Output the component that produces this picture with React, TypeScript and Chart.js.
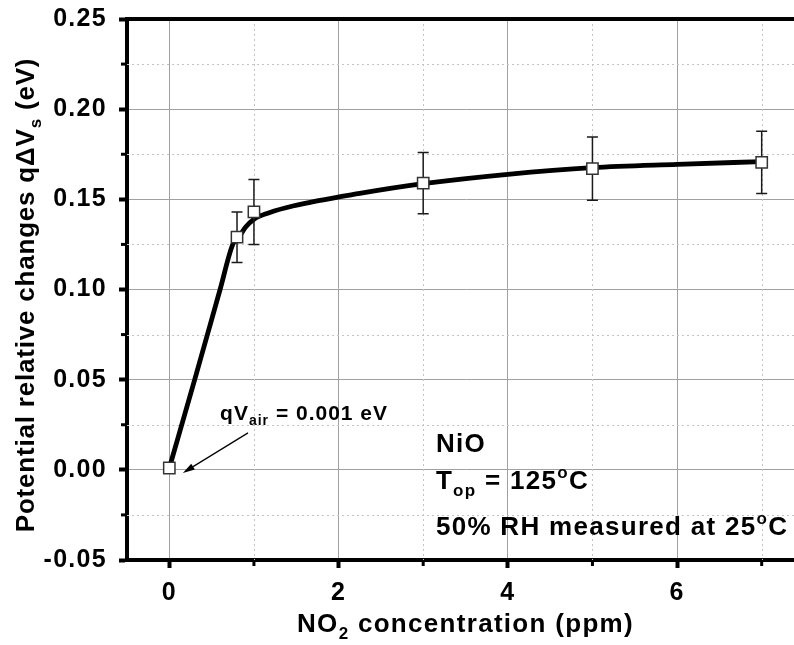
import React, { useEffect, useRef } from 'react';
import { Chart, registerables } from 'chart.js';

Chart.register(...registerables);

// ---- data ----
const concentrations = [0, 0.8, 1, 3, 5, 7];
const potentialChanges = [0.001, 0.129, 0.143, 0.159, 0.167, 0.1705];
const errorValues = [0, 0.014, 0.018, 0.017, 0.0175, 0.0173];

const fitConcentrations = [0, 0.3, 0.6, 0.75, 0.83, 0.9, 1.0, 1.18, 1.46, 2.25, 3, 4, 5, 6, 7];
const fitValues = [0.001, 0.05, 0.1, 0.125, 0.1296, 0.1345, 0.139, 0.1426, 0.1463, 0.1533, 0.1587, 0.1639, 0.1676, 0.1694, 0.1709];

const xMajorTicks = [0, 2, 4, 6];
const xMinorTicks = [1, 3, 5, 7];
const yMajorTicks = [-0.05, 0, 0.05, 0.1, 0.15, 0.2, 0.25];
const yMinorTicks = [-0.025, 0.025, 0.075, 0.125, 0.175, 0.225];

const X_MIN = -0.5;
const X_MAX = 7.5;
const Y_MIN = -0.05;
const Y_MAX = 0.25;

const FONT = "'Liberation Sans', Arial, sans-serif";
const SPACING = '1.3px';

type Seg = { t: string; size: number; dy?: number };

function segWidth(ctx: CanvasRenderingContext2D, segs: Seg[]) {
  let w = 0;
  for (const s of segs) {
    ctx.font = `bold ${s.size}px ${FONT}`;
    w += ctx.measureText(s.t).width;
  }
  return w;
}

function drawRich(ctx: CanvasRenderingContext2D, segs: Seg[], x: number, y: number, align: 'left' | 'center') {
  let cx = align === 'center' ? x - segWidth(ctx, segs) / 2 : x;
  ctx.textAlign = 'left';
  ctx.textBaseline = 'alphabetic';
  for (const s of segs) {
    ctx.font = `bold ${s.size}px ${FONT}`;
    ctx.fillText(s.t, cx, y + (s.dy || 0));
    cx += ctx.measureText(s.t).width;
  }
}

const decorPlugin = {
  id: 'decor',
  beforeDraw(chart: any) {
    (chart.ctx as any).letterSpacing = SPACING;
  },
  beforeDatasetsDraw(chart: any) {
    const { ctx, chartArea: a, scales } = chart;
    const x = scales.x;
    const y = scales.y;
    ctx.save();
    ctx.strokeStyle = '#c4c4c4';
    ctx.lineWidth = 1;
    ctx.setLineDash([2, 3]);
    for (const v of xMinorTicks) {
      const px = Math.round(x.getPixelForValue(v)) + 0.5;
      ctx.beginPath();
      ctx.moveTo(px, a.top);
      ctx.lineTo(px, a.bottom);
      ctx.stroke();
    }
    for (const v of yMinorTicks) {
      const py = Math.round(y.getPixelForValue(v)) + 0.5;
      ctx.beginPath();
      ctx.moveTo(a.left, py);
      ctx.lineTo(a.right, py);
      ctx.stroke();
    }
    ctx.restore();
  },
  beforeDatasetDraw(chart: any, args: any) {
    if (args.index !== 0) return;
    const { ctx, scales } = chart;
    const x = scales.x;
    const y = scales.y;
    ctx.save();
    ctx.strokeStyle = '#1a1a1a';
    ctx.lineWidth = 1.5;
    concentrations.forEach((c, i) => {
      const e = errorValues[i];
      if (!e) return;
      const px = x.getPixelForValue(c);
      const top = y.getPixelForValue(potentialChanges[i] + e);
      const bot = y.getPixelForValue(potentialChanges[i] - e);
      ctx.beginPath();
      ctx.moveTo(px, top);
      ctx.lineTo(px, bot);
      ctx.moveTo(px - 5.5, top);
      ctx.lineTo(px + 5.5, top);
      ctx.moveTo(px - 5.5, bot);
      ctx.lineTo(px + 5.5, bot);
      ctx.stroke();
    });
    ctx.restore();
  },
  afterDraw(chart: any) {
    const { ctx, chartArea: a, scales } = chart;
    const x = scales.x;
    const y = scales.y;
    ctx.save();
    (ctx as any).letterSpacing = SPACING;
    // top frame line
    ctx.strokeStyle = '#000';
    ctx.lineWidth = 4;
    ctx.beginPath();
    ctx.moveTo(a.left - 2, a.top);
    ctx.lineTo(a.right + 40, a.top);
    ctx.stroke();
    // minor ticks
    ctx.lineWidth = 3;
    for (const v of xMinorTicks) {
      const px = x.getPixelForValue(v);
      ctx.beginPath();
      ctx.moveTo(px, a.bottom);
      ctx.lineTo(px, a.bottom + 6);
      ctx.stroke();
    }
    for (const v of yMinorTicks) {
      const py = y.getPixelForValue(v);
      ctx.beginPath();
      ctx.moveTo(a.left, py);
      ctx.lineTo(a.left - 6, py);
      ctx.stroke();
    }
    ctx.fillStyle = '#000';
    // axis titles
    drawRich(
      ctx,
      [
        { t: 'NO', size: 26 },
        { t: '2', size: 17, dy: 7 },
        { t: ' concentration (ppm)', size: 26 },
      ],
      (a.left + a.right) / 2,
      632,
      'center'
    );
    ctx.save();
    (ctx as any).letterSpacing = '0.8px';
    ctx.translate(34, 295);
    ctx.rotate(-Math.PI / 2);
    drawRich(
      ctx,
      [
        { t: 'Potential relative changes q\u0394V', size: 26 },
        { t: 's', size: 17, dy: 7 },
        { t: ' (eV)', size: 26 },
      ],
      0,
      0,
      'center'
    );
    ctx.restore();
    // annotation for air baseline
    (ctx as any).letterSpacing = '1px';
    drawRich(
      ctx,
      [
        { t: 'qV', size: 21 },
        { t: 'air', size: 14, dy: 5 },
        { t: ' = 0.001 eV', size: 21 },
      ],
      x.getPixelForValue(0.6),
      y.getPixelForValue(0.0277),
      'left'
    );
    const tipX = x.getPixelForValue(0.16);
    const tipY = y.getPixelForValue(-0.0017);
    const tailX = x.getPixelForValue(0.93);
    const tailY = y.getPixelForValue(0.0205);
    ctx.strokeStyle = '#000';
    ctx.lineWidth = 1.2;
    const ang = Math.atan2(tipY - tailY, tipX - tailX);
    const hl = 12;
    const hw = 3.5;
    const bx = tipX - hl * Math.cos(ang);
    const by = tipY - hl * Math.sin(ang);
    ctx.beginPath();
    ctx.moveTo(tailX, tailY);
    ctx.lineTo(bx, by);
    ctx.stroke();
    ctx.beginPath();
    ctx.moveTo(tipX, tipY);
    ctx.lineTo(bx + hw * Math.sin(ang), by - hw * Math.cos(ang));
    ctx.lineTo(bx - hw * Math.sin(ang), by + hw * Math.cos(ang));
    ctx.closePath();
    ctx.fill();
    // sample info
    (ctx as any).letterSpacing = SPACING;
    const tx = x.getPixelForValue(3.15);
    drawRich(ctx, [{ t: 'NiO', size: 26 }], tx, y.getPixelForValue(0.01), 'left');
    drawRich(
      ctx,
      [
        { t: 'T', size: 26 },
        { t: 'op', size: 17, dy: 7 },
        { t: ' = 125', size: 26 },
        { t: 'o', size: 17, dy: -11 },
        { t: 'C', size: 26 },
      ],
      tx,
      y.getPixelForValue(-0.0105),
      'left'
    );
    drawRich(
      ctx,
      [
        { t: '50% RH measured at 25', size: 26 },
        { t: 'o', size: 17, dy: -11 },
        { t: 'C', size: 26 },
      ],
      tx,
      y.getPixelForValue(-0.036),
      'left'
    );
    ctx.restore();
  },
};

export default function App() {
  const canvasRef = useRef<HTMLCanvasElement | null>(null);

  useEffect(() => {
    const canvas = canvasRef.current;
    if (!canvas) return;
    const chart = new Chart(canvas, {
      type: 'line',
      data: {
        datasets: [
          {
            label: 'measured',
            data: concentrations.map((c, i) => ({ x: c, y: potentialChanges[i] })),
            showLine: false,
            pointStyle: 'rect',
            pointRadius: 8,
            pointBackgroundColor: '#ffffff',
            pointBorderColor: '#333333',
            pointBorderWidth: 1.5,
            order: 0,
          },
          {
            label: 'fit',
            data: fitConcentrations.map((c, i) => ({ x: c, y: fitValues[i] })),
            borderColor: '#000000',
            borderWidth: 4.8,
            pointRadius: 0,
            cubicInterpolationMode: 'monotone',
            fill: false,
            order: 1,
          },
        ],
      },
      options: {
        animation: false,
        responsive: false,
        events: [],
        layout: { padding: { top: 19, right: 26, left: 0, bottom: 0 } },
        plugins: {
          legend: { display: false },
          tooltip: { enabled: false },
          title: { display: false },
        },
        scales: {
          x: {
            type: 'linear',
            min: X_MIN,
            max: X_MAX,
            afterBuildTicks: (s: any) => {
              s.ticks = xMajorTicks.map((v) => ({ value: v }));
            },
            afterFit: (s: any) => {
              s.height = 85;
              s.paddingLeft = 0;
              s.paddingRight = 0;
            },
            grid: { color: '#a0a0a0', lineWidth: 1, tickColor: '#000', tickWidth: 4, tickLength: 8 },
            border: { color: '#000', width: 4 },
            ticks: {
              color: '#000',
              font: { family: FONT, size: 25, weight: 'bold' },
              padding: 10,
              maxRotation: 0,
              autoSkip: false,
              callback: (v: any) => String(v),
            },
          },
          y: {
            type: 'linear',
            min: Y_MIN,
            max: Y_MAX,
            afterBuildTicks: (s: any) => {
              s.ticks = yMajorTicks.map((v) => ({ value: v }));
            },
            afterFit: (s: any) => {
              s.width = 127;
              s.paddingTop = 0;
              s.paddingBottom = 0;
            },
            grid: { color: '#a0a0a0', lineWidth: 1, tickColor: '#000', tickWidth: 4, tickLength: 8 },
            border: { color: '#000', width: 4 },
            ticks: {
              color: '#000',
              font: { family: FONT, size: 25, weight: 'bold' },
              padding: 12,
              autoSkip: false,
              callback: (v: any) => Number(v).toFixed(2),
            },
          },
        },
      } as any,
      plugins: [decorPlugin],
    });
    return () => chart.destroy();
  }, []);

  return (
    <div style={{ position: 'fixed', left: 0, top: 0, width: 794, height: 645, overflow: 'hidden', background: '#fff' }}>
      <canvas ref={canvasRef} width={830} height={645} style={{ display: 'block' }} />
    </div>
  );
}
